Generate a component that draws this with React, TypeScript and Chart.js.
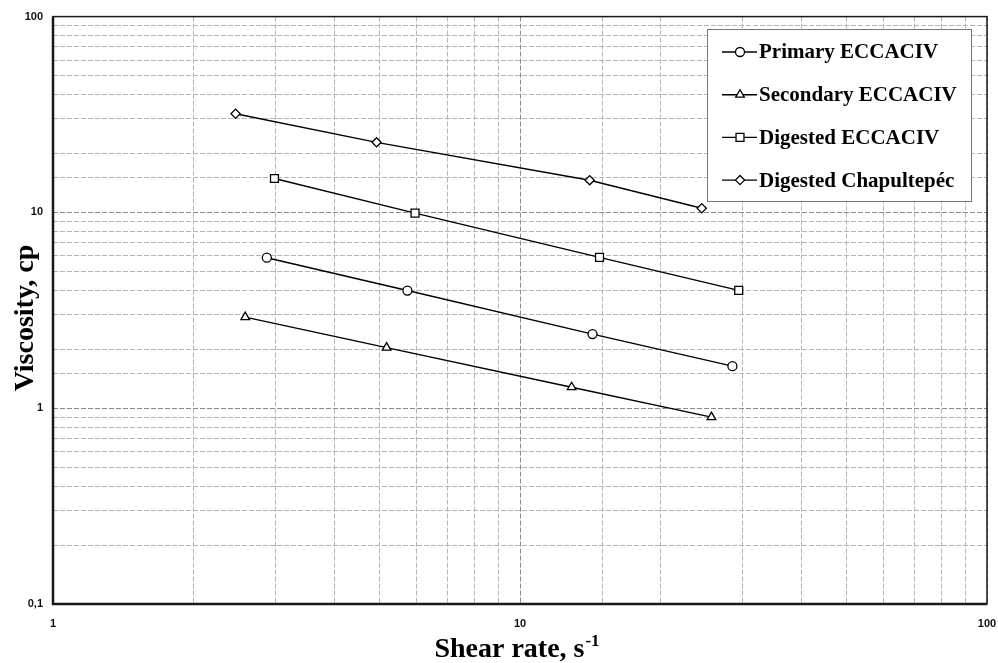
import { useEffect, useRef } from 'react';
import { Chart, registerables } from 'chart.js';
import { drawPoint } from 'chart.js/helpers';

Chart.register(...registerables);

const seriesNames = ['Primary ECCACIV', 'Secondary ECCACIV', 'Digested ECCACIV', 'Digested Chapultepéc'];
const pointStyles = ['circle', 'triangle', 'rect', 'rectRot'];
const pointRadii = [4.5, 5, 5.6, 4.6];

const primaryShear = [2.87, 5.74, 14.3, 28.5];
const primaryVisc = [5.87, 3.99, 2.39, 1.64];
const secondaryShear = [2.58, 5.18, 12.9, 25.7];
const secondaryVisc = [2.92, 2.04, 1.28, 0.9];
const digestedShear = [2.98, 5.96, 14.8, 29.4];
const digestedVisc = [14.9, 9.92, 5.89, 4.0];
const chapultepecShear = [2.46, 4.93, 14.1, 24.5];
const chapultepecVisc = [31.9, 22.8, 14.6, 10.5];

const xTickValues = [1, 10, 100];
const xTickLabels = ['1', '10', '100'];
const yTickValues = [0.1, 1, 10, 100];
const yTickLabels = ['0,1', '1', '10', '100'];

const xTitle = 'Shear rate, s';
const xTitleSup = '-1';
const yTitle = 'Viscosity, cp';

const shearSeries = [primaryShear, secondaryShear, digestedShear, chapultepecShear];
const viscSeries = [primaryVisc, secondaryVisc, digestedVisc, chapultepecVisc];

function labelFor(value: number, values: number[], labels: string[]) {
  const i = values.findIndex((v) => Math.abs(v - value) / v < 1e-6);
  return i >= 0 ? labels[i] : '';
}
function isDecade(value: number) {
  const l = Math.log10(value);
  return Math.abs(l - Math.round(l)) < 1e-6;
}

const decorPlugin = {
  id: 'decor',
  afterDatasetsDraw(chart: any) {
    const { ctx, chartArea } = chart;
    const { left, right, top, bottom } = chartArea;
    ctx.save();
    // frame
    ctx.strokeStyle = '#1a1a1a';
    ctx.lineWidth = 1.5;
    ctx.strokeRect(left, top, right - left, bottom - top);
    ctx.lineWidth = 2.5;
    ctx.beginPath();
    ctx.moveTo(left, top);
    ctx.lineTo(left, bottom);
    ctx.lineTo(right, bottom);
    ctx.stroke();

    // legend
    const bx = 707, by = 29, bw = 264, bh = 172;
    ctx.fillStyle = '#ffffff';
    ctx.fillRect(bx, by, bw, bh);
    ctx.strokeStyle = '#777777';
    ctx.lineWidth = 1;
    ctx.strokeRect(bx + 0.5, by + 0.5, bw, bh);
    ctx.font = 'bold 21px "Liberation Serif", "Times New Roman", serif';
    ctx.textBaseline = 'middle';
    ctx.textAlign = 'left';
    chart.data.datasets.forEach((ds: any, i: number) => {
      const y = 52 + i * 42.7;
      ctx.strokeStyle = '#000';
      ctx.lineWidth = 1.4;
      ctx.beginPath();
      ctx.moveTo(722, y);
      ctx.lineTo(757, y);
      ctx.stroke();
      ctx.fillStyle = '#fff';
      ctx.strokeStyle = '#000';
      ctx.lineWidth = 1.3;
      drawPoint(ctx, { pointStyle: ds.pointStyle, radius: ds.pointRadius, borderWidth: 1.3, rotation: 0 } as any, 740, y);
      ctx.fillStyle = '#000';
      ctx.fillText(ds.label, 759, y + 1);
    });

    // x title with superscript
    ctx.fillStyle = '#000';
    ctx.textBaseline = 'alphabetic';
    ctx.font = 'bold 28px "Liberation Serif", "Times New Roman", serif';
    const w1 = ctx.measureText(xTitle).width;
    ctx.font = 'bold 17px "Liberation Serif", "Times New Roman", serif';
    const w2 = ctx.measureText(xTitleSup).width;
    const cx = 517;
    const sx = cx - (w1 + w2 + 1) / 2;
    ctx.font = 'bold 28px "Liberation Serif", "Times New Roman", serif';
    ctx.fillText(xTitle, sx, 657);
    ctx.font = 'bold 17px "Liberation Serif", "Times New Roman", serif';
    ctx.fillText(xTitleSup, sx + w1 + 1, 646);

    // y title
    ctx.translate(33, 318);
    ctx.rotate(-Math.PI / 2);
    ctx.textAlign = 'center';
    ctx.font = 'bold 28px "Liberation Serif", "Times New Roman", serif';
    ctx.fillText(yTitle, 0, 0);
    ctx.restore();
  },
};

export default function App() {
  const ref = useRef<HTMLCanvasElement | null>(null);
  useEffect(() => {
    if (!ref.current) return;
    const datasets = seriesNames.map((name, i) => ({
      label: name,
      data: shearSeries[i].map((x, j) => ({ x, y: viscSeries[i][j] })),
      showLine: true,
      borderColor: '#000',
      borderWidth: 1.4,
      backgroundColor: '#fff',
      pointStyle: pointStyles[i],
      pointRadius: pointRadii[i],
      pointBorderWidth: 1.3,
      pointBackgroundColor: '#fff',
      pointBorderColor: '#000',
    }));
    const gridColor = (c: any) => (c.tick && isDecade(c.tick.value) ? '#8a8a8a' : '#b5b5b5');
    const chart = new Chart(ref.current, {
      type: 'scatter',
      data: { datasets },
      options: {
        animation: false,
        responsive: false,
        layout: { padding: { top: 16, right: 0, left: 0, bottom: 0 } },
        plugins: { legend: { display: false }, tooltip: { enabled: false } },
        scales: {
          x: {
            type: 'logarithmic',
            min: 1,
            max: 100,
            afterFit: (s: any) => { s.height = 59; s.paddingRight = 11; },
            grid: { color: gridColor, lineWidth: 1, drawTicks: false },
            border: { display: false, dash: [5, 2] },
            ticks: {
              autoSkip: false,
              maxRotation: 0,
              padding: 13,
              color: '#111',
              font: { family: '"Liberation Sans", Arial, sans-serif', size: 11, weight: 'bold' },
              callback: (v: any) => labelFor(Number(v), xTickValues, xTickLabels),
            },
          },
          y: {
            type: 'logarithmic',
            min: 0.1,
            max: 100,
            afterFit: (s: any) => { s.width = 53; },
            grid: { color: gridColor, lineWidth: 1, drawTicks: false },
            border: { display: false, dash: [5, 2] },
            ticks: {
              autoSkip: false,
              padding: 10,
              color: '#111',
              font: { family: '"Liberation Sans", Arial, sans-serif', size: 11, weight: 'bold' },
              callback: (v: any) => labelFor(Number(v), yTickValues, yTickLabels),
            },
          },
        },
      } as any,
      plugins: [decorPlugin],
    });
    return () => chart.destroy();
  }, []);
  return (
    <div style={{ position: 'absolute', left: 0, top: 0, width: 998, height: 663, background: '#fff' }}>
      <canvas ref={ref} width={998} height={663} />
    </div>
  );
}
